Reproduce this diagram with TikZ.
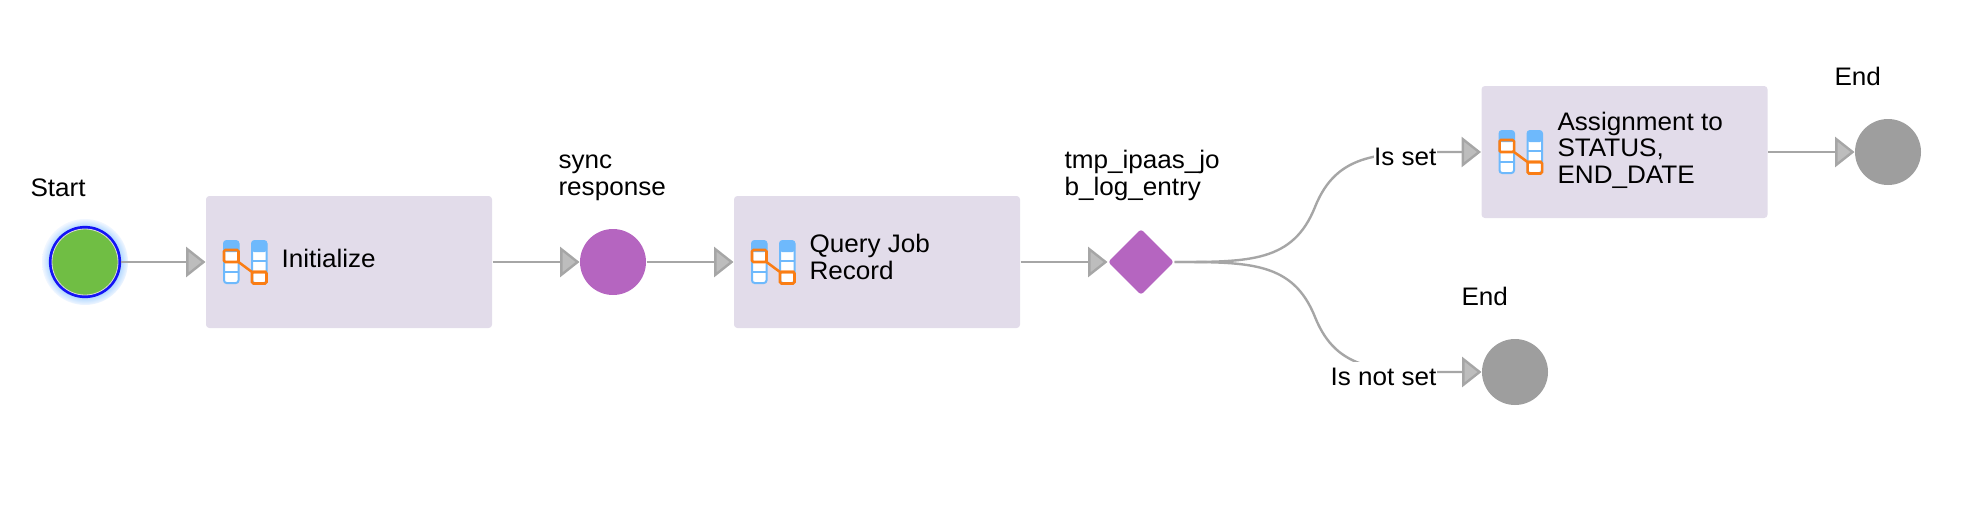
\documentclass[tikz,border=0pt]{standalone}
\usepackage{fontspec}
\setmainfont[FakeStretch=1.03]{Liberation Sans}
\usetikzlibrary{arrows.meta,shapes.geometric}
\definecolor{stepFill}{RGB}{226,220,234}
\definecolor{gatePurple}{RGB}{181,101,192}
\definecolor{endGray}{RGB}{158,158,158}
\definecolor{flowGray}{RGB}{166,166,166}
\definecolor{tipGray}{RGB}{189,189,189}
\definecolor{startGreen}{RGB}{112,190,68}
\definecolor{ringBlue}{RGB}{20,20,245}
\definecolor{iconBlue}{RGB}{110,185,252}
\definecolor{iconOrange}{RGB}{250,125,20}
\pgfdeclareradialshading{startglow}{\pgfpointorigin}{rgb(0bp)=(0.66,0.83,1);rgb(20bp)=(0.66,0.83,1);rgb(25bp)=(0.95,0.97,1);rgb(50bp)=(1,1,1)}
\tikzset{every picture/.style={line width=0.75pt}}
\tikzset{
	flow/.style={draw=flowGray, line width=1.8pt, -{Triangle[length=14.5pt,width=22.5pt,fill=tipGray]}},
	stepbox/.style={rectangle, fill=stepFill, rounded corners=2.5pt, minimum width=214.5pt, minimum height=99pt, inner sep=0pt},
	endball/.style={circle, fill=endGray, minimum size=49.5pt, inner sep=0pt},
	syncball/.style={circle, fill=gatePurple, minimum size=49.5pt, inner sep=0pt},
	gatebox/.style={diamond, fill=gatePurple, rounded corners=2pt, minimum width=49.5pt, minimum height=49.5pt, inner sep=0pt},
	txt/.style={anchor=base west, inner sep=0pt, align=left, font=\fontsize{19}{19.7}\selectfont},
	branch/.style={anchor=base east, fill=white, inner xsep=0pt, inner ysep=4.5pt, font=\fontsize{19}{19.7}\selectfont},
	mapicon/.pic={
		\draw[iconBlue, line width=1.5pt, fill=white, rounded corners=2pt] (18.5,21) rectangle (33,-21);
		\draw[iconBlue, line width=1.5pt, fill=white, rounded corners=2pt] (46.5,21) rectangle (61,-21);
		\fill[iconBlue, rounded corners=2pt] (18,21.5) rectangle (33.5,10);
		\fill[iconBlue, rounded corners=2pt] (46,21.5) rectangle (61.5,10);
		\draw[iconBlue, line width=1.5pt] (18.5,-10) -- (33,-10) (46.5,1) -- (61,1);
		\draw[iconOrange, line width=1.9pt, rounded corners=1pt] (18.5,12) rectangle (33,0);
		\draw[iconOrange, line width=1.9pt, rounded corners=1pt] (46.5,-10) rectangle (61,-21.5);
		\draw[iconOrange, line width=1.9pt] (33,0) -- (46.5,-10) -- (61,-10);
	}
}
\begin{document}
\begin{tikzpicture}[x=0.75pt,y=0.75pt,yscale=-1,xscale=1]
	\useasboundingbox (0,0) rectangle (1970,522);

	% Start
	\shade[shading=startglow] (85,262) circle (43);
	\node[circle, fill=startGreen, draw=ringBlue, line width=2.2pt, minimum size=52pt, inner sep=0pt] (startBall) at (85,262) {};
	\draw[white!70!gray, line width=0.6pt] (startBall.center) circle (33);

	% Steps
	\node[stepbox] (initBox) at (349,262) {};
	\node[syncball] (syncBall) at (613,262) {};
	\node[stepbox] (queryBox) at (877,262) {};
	\node[gatebox] (gateBox) at (1141,262) {};
	\node[stepbox] (assignBox) at (1624.5,152) {};
	\node[endball] (endTop) at (1888,152) {};
	\node[endball] (endLow) at (1515,372) {};

	% Connectors
	\draw[flow] (startBall) -- (initBox);
	\draw[flow] (initBox) -- (syncBall);
	\draw[flow] (syncBall) -- (queryBox);
	\draw[flow] (queryBox) -- (gateBox);
	\draw[flow] (assignBox) -- (endTop);
	\draw[flow] (gateBox.east) .. controls (1250,262) and (1293,262) .. (1315,207) .. controls (1337,152) and (1380,152) .. (1457,152) -- (assignBox.west);
	\draw[flow] (gateBox.east) .. controls (1250,262) and (1293,262) .. (1315,317) .. controls (1337,372) and (1380,372) .. (1457,372) -- (endLow.west);

	% Icons
	\pic at (initBox.west) {mapicon};
	\pic at (queryBox.west) {mapicon};
	\pic at (assignBox.west) {mapicon};

	% Text Node
	\node[txt] (startText) at (30,196) {Start};
	\node[txt] (syncText) at (558,195) {sync\\response};
	\node[txt] (gateText) at (1064,195) {tmp\_ipaas\_jo\\b\_log\_entry};
	\node[txt] (initText) at (281,267) {Initialize};
	\node[txt] (queryText) at (809,279) {Query Job\\Record};
	\node[txt] (assignText) at (1557,183) {Assignment to\\STATUS,\\END\_DATE};
	\node[txt] (endTopText) at (1834,85) {End};
	\node[txt] (endLowText) at (1461,305) {End};
	\node[branch] (isSet) at (1437,165) {Is set};
	\node[branch] (isNotSet) at (1437,385) {Is not set};
\end{tikzpicture}
\end{document}
